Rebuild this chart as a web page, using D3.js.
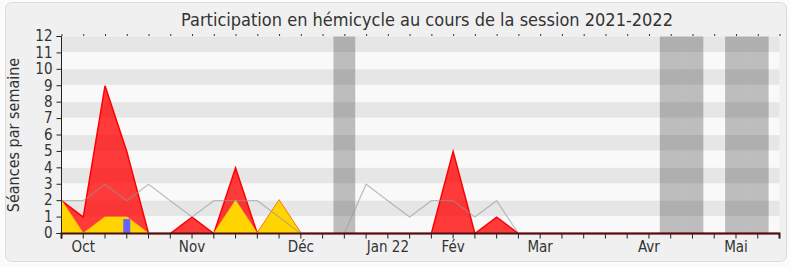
<!DOCTYPE html>
<html>
<head>
<meta charset="utf-8">
<script src="https://cdn.jsdelivr.net/npm/d3@7"></script>
<style>
  body { margin: 0; background: #fbfbfb; }
  text { font-family: "DejaVu Sans Condensed", "DejaVu Sans", sans-serif; fill: #333; }
</style>
</head>
<body>
<div id="chart"></div>
<script>
/* globals d3 */

// one value per week, starting on the week of 27 Sept 2021
const weekCount = 34;
const presence = [2, 1, 9, 5, 0, 0, 1, 0, 4, 0, 2, 0, 0, 0, 0, 0, 0, 0, 5, 0, 1, 0,
  0, 0, 0, 0, 0, 0, 0, 0, 0, 0, 0, 0];
const interventions = [2, 0, 1, 1, 0, 0, 0, 0, 2, 0, 2, 0, 0, 0, 0, 0, 0, 0, 0, 0, 0, 0,
  0, 0, 0, 0, 0, 0, 0, 0, 0, 0, 0, 0];
const median = [2, 2, 3, 2, 3, 2, 1, 2, 2, 2, 1, 0, 0, 0, 3, 2, 1, 2, 2, 1, 2, 0];
const questions = [{week: 3, value: 1}];
const vacations = [13, 28, 29, 31, 32];
const monthLabels = [
  {week: 1, label: "Oct"},
  {week: 6, label: "Nov"},
  {week: 11, label: "Déc"},
  {week: 15, label: "Jan 22"},
  {week: 18, label: "Fév"},
  {week: 22, label: "Mar"},
  {week: 27, label: "Avr"},
  {week: 31, label: "Mai"}
];
const yTicks = d3.range(0, 13);

const width = 790;
const height = 267;
const margin = {top: 36.5, right: 10.5, bottom: 33.5, left: 61.5};

const x = d3.scaleLinear()
  .domain([0, weekCount - 1])
  .range([margin.left, width - margin.right]);
const y = d3.scaleLinear()
  .domain([0, 12])
  .range([height - margin.bottom, margin.top]);
const weekW = x(1) - x(0);

const svg = d3.create("svg")
  .attr("width", width)
  .attr("height", height)
  .attr("viewBox", [0, 0, width, height]);

// frame
svg.append("rect")
  .attr("x", 5.5).attr("y", 2.5)
  .attr("width", 781).attr("height", 259)
  .attr("rx", 6)
  .attr("fill", "#f0f0f0")
  .attr("stroke", "#dcdcdc");

svg.append("text")
  .attr("x", 427)
  .attr("y", 26)
  .attr("text-anchor", "middle")
  .attr("font-size", 18)
  .text("Participation en hémicycle au cours de la session 2021-2022");

// plot background + stripes
svg.append("rect")
  .attr("x", x(0)).attr("y", y(12))
  .attr("width", x(weekCount - 1) - x(0))
  .attr("height", y(0) - y(12))
  .attr("fill", "#f9f9f9");

svg.append("g")
  .selectAll("rect")
  .data(yTicks.filter((d) => d % 2 === 1))
  .join("rect")
  .attr("x", x(0))
  .attr("y", (d) => y(d + 1))
  .attr("width", x(weekCount - 1) - x(0))
  .attr("height", (d) => y(d) - y(d + 1) - 1)
  .attr("fill", "#e6e6e6");

// holidays
svg.append("g")
  .selectAll("rect")
  .data(vacations)
  .join("rect")
  .attr("x", (d) => x(d - 0.5))
  .attr("y", y(12))
  .attr("width", weekW)
  .attr("height", y(0) - y(12))
  .attr("fill", "rgba(0,0,0,0.24)");

const area = d3.area()
  .x((d, i) => x(i))
  .y0(y(0))
  .y1((d) => y(d));
const line = d3.line()
  .x((d, i) => x(i))
  .y((d) => y(d));

svg.append("path")
  .datum(presence)
  .attr("d", area)
  .attr("fill", "rgba(255,0,0,0.77)");

svg.append("path")
  .datum(presence)
  .attr("d", line)
  .attr("fill", "none")
  .attr("stroke", "#ff0000")
  .attr("stroke-width", 1.5);

svg.append("path")
  .datum(interventions)
  .attr("d", area)
  .attr("fill", "#ffd400");

svg.append("path")
  .datum(interventions)
  .attr("d", line)
  .attr("fill", "none")
  .attr("stroke", "rgba(255,225,0,0.7)")
  .attr("stroke-width", 1.2);

svg.append("path")
  .datum(median)
  .attr("d", line)
  .attr("fill", "none")
  .attr("stroke", "rgba(150,150,150,0.6)")
  .attr("stroke-width", 1.2);

svg.append("g")
  .selectAll("rect")
  .data(questions)
  .join("rect")
  .attr("x", (d) => x(d.week) - 3.5)
  .attr("y", (d) => y(d.value) + 2)
  .attr("width", 7)
  .attr("height", (d) => y(0) - y(d.value) - 2)
  .attr("fill", "#6464ff");

// axes
const labelFor = new Map(monthLabels.map((m) => [m.week, m.label]));
const xAxis = svg.append("g")
  .attr("transform", `translate(0,${y(0)})`)
  .call(d3.axisBottom(x)
    .offset(0)
    .tickValues(d3.range(weekCount))
    .tickSize(5)
    .tickPadding(3)
    .tickFormat((d) => labelFor.get(d) || ""));
xAxis.select(".domain").attr("stroke", "#4a1010").attr("stroke-width", 2);
xAxis.selectAll("line").attr("stroke", "#222");
xAxis.selectAll("text").attr("font-size", 15).attr("fill", "#333");

const topAxis = svg.append("g")
  .attr("transform", `translate(0,${y(12) - 0.5})`)
  .call(d3.axisTop(x)
    .tickValues(d3.range(weekCount))
    .tickSize(2)
    .tickFormat(""));
topAxis.select(".domain").remove();
topAxis.selectAll("line").attr("stroke", "#333");

const yAxis = svg.append("g")
  .attr("transform", `translate(${x(0)},0)`)
  .call(d3.axisLeft(y)
    .offset(0)
    .tickValues(yTicks)
    .tickSize(5)
    .tickPadding(4)
    .tickFormat(d3.format("d")));
yAxis.select(".domain").attr("stroke", "#222");
yAxis.selectAll("line").attr("stroke", "#222");
yAxis.selectAll("text").attr("font-size", 15).attr("fill", "#333");

svg.append("text")
  .attr("transform", `translate(19,${(y(0) + y(12)) / 2}) rotate(-90)`)
  .attr("text-anchor", "middle")
  .attr("font-size", 16)
  .text("Séances par semaine");

document.getElementById("chart").appendChild(svg.node());
</script>
</body>
</html>
